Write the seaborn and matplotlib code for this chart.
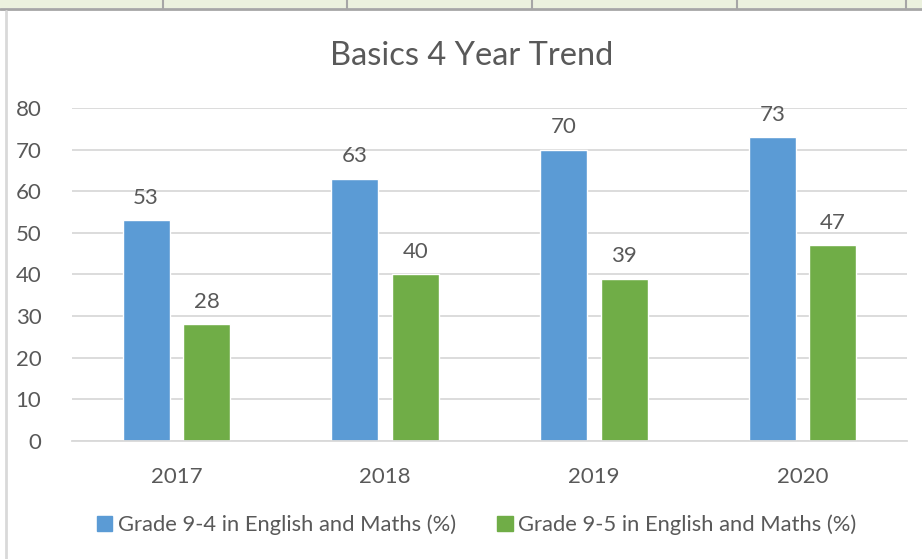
import pandas as pd
import matplotlib.pyplot as plt
import seaborn as sns
from matplotlib.patches import Rectangle
from matplotlib.lines import Line2D

# chart data
years = ['2017', '2018', '2019', '2020']
grade_94 = [53, 63, 70, 73]
grade_95 = [28, 40, 39, 47]
series_names = ['Grade 9-4 in English and Maths (%)',
                'Grade 9-5 in English and Maths (%)']
y_ticks = [0, 10, 20, 30, 40, 50, 60, 70, 80]

df = pd.DataFrame({
    'year': years * 2,
    'value': grade_94 + grade_95,
    'series': [series_names[0]] * len(years) + [series_names[1]] * len(years),
})

sns.set_theme(style='white')
plt.rcParams['font.family'] = ['Lato', 'DejaVu Sans']

text_col = '#595959'
grid_col = '#D9D9D9'
palette = {series_names[0]: '#5B9BD5', series_names[1]: '#70AD47'}

fig = plt.figure(figsize=(9.22, 5.59), dpi=100)
ax = fig.add_axes([0.0781, 0.2111, 0.9056, 0.5957])

sns.barplot(data=df, x='year', y='value', hue='series', order=years,
            hue_order=series_names, palette=palette, width=0.58, gap=0.22,
            saturation=1, legend=False, ax=ax)

# value labels above bars
for cont in ax.containers:
    ax.bar_label(cont, fmt='%d', padding=9, fontsize=16, color=text_col)

ax.set_ylim(0, 80)
ax.set_xlim(-0.5, 3.5)
ax.set_yticks(y_ticks)
ax.yaxis.grid(True, color=grid_col, linewidth=1.3)
ax.set_axisbelow(True)
for s in ['top', 'right', 'left']:
    ax.spines[s].set_visible(False)
ax.spines['bottom'].set_color(grid_col)
ax.spines['bottom'].set_linewidth(1.3)
ax.tick_params(axis='both', length=0, labelsize=16, labelcolor=text_col)
ax.tick_params(axis='y', pad=22)
ax.tick_params(axis='x', pad=19)
ax.set_xlabel('')
ax.set_ylabel('')

fig.text(0.511, 0.9, 'Basics 4 Year Trend', ha='center', va='center',
         fontsize=23.5, color=text_col)

# legend
handles = [Rectangle((0, 0), 1, 1, color=palette[n]) for n in series_names]
fig.legend(handles, series_names, loc='center', bbox_to_anchor=(0.517, 0.061),
           ncol=2, frameon=False, fontsize=15.8, labelcolor=text_col,
           handlelength=0.7, handleheight=0.7, handletextpad=0.25,
           columnspacing=1.9)

# spreadsheet strip at the top and chart frame edge
fig.patches.append(Rectangle((0, 1 - 8 / 559), 1, 8 / 559, transform=fig.transFigure,
                             facecolor='#EBF1DE', edgecolor='none'))
fig.lines.append(Line2D([0, 1], [1 - 9 / 559] * 2, transform=fig.transFigure,
                        color='#A6A6A6', linewidth=2))
for xc in [163, 347, 532, 737, 906]:
    fig.lines.append(Line2D([xc / 922] * 2, [1 - 9 / 559, 1], transform=fig.transFigure,
                            color='#A6A6A6', linewidth=1.5))
fig.lines.append(Line2D([6 / 922] * 2, [0, 1 - 11 / 559], transform=fig.transFigure,
                        color='#D9D9D9', linewidth=2))

fig.savefig('out.png', dpi=100)
